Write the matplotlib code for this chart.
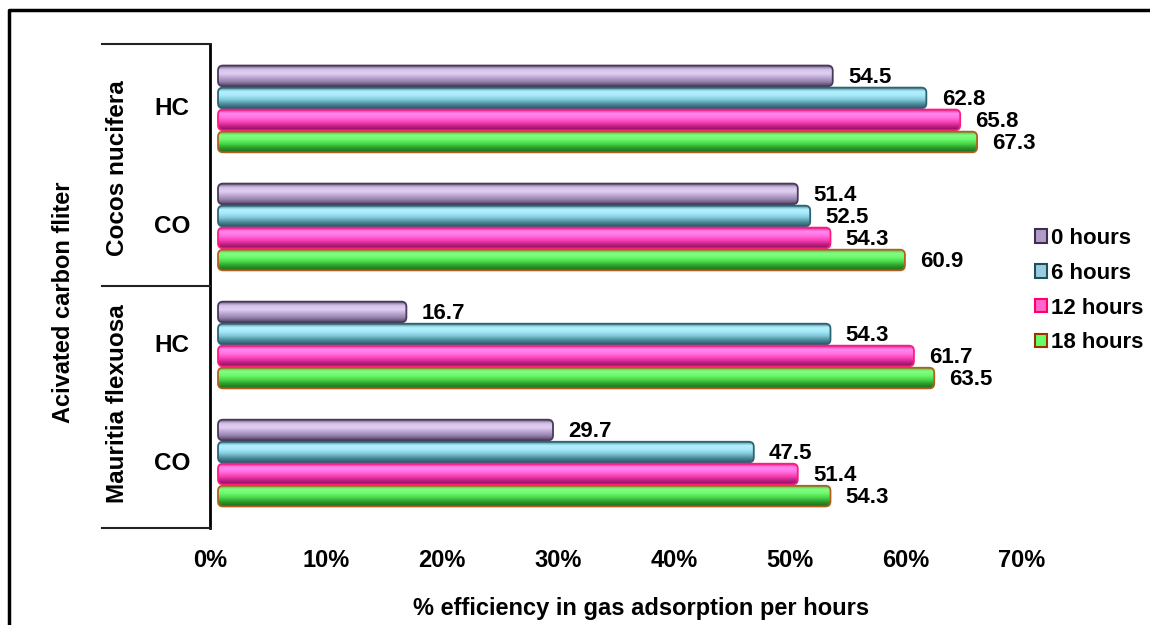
import numpy as np
import matplotlib
matplotlib.use('Agg')
import matplotlib.pyplot as plt
from matplotlib.patches import FancyBboxPatch, Patch
from matplotlib.colors import LinearSegmentedColormap
from matplotlib.lines import Line2D
import matplotlib.transforms as mtransforms

# dados
categorias = ['HC', 'CO', 'HC', 'CO']
grupos = ['Cocos nucifera', 'Mauritia flexuosa']
series = ['0 hours', '6 hours', '12 hours', '18 hours']
v0 = [54.5, 51.4, 16.7, 29.7]
v6 = [62.8, 52.5, 54.3, 47.5]
v12 = [65.8, 54.3, 61.7, 51.4]
v18 = [67.3, 60.9, 63.5, 54.3]
xticks = [0, 10, 20, 30, 40, 50, 60, 70]

valores = [v0, v6, v12, v18]

# estilo: gradiente de cada cilindro (de cima para baixo), borda e cor da legenda
grads = [
    ['#5e4e70', '#d4c2ea', '#e0d0f2', '#bba6d2', '#9581ac', '#554566'],
    ['#3a7282', '#b4f2ff', '#a6eafa', '#82cada', '#4f909f', '#2a5e6c'],
    ['#d81a88', '#ff8af0', '#ff72e2', '#ff44bc', '#c82488', '#8e1060'],
    ['#3cb83c', '#84ff84', '#6cf86c', '#4ad84a', '#2c9c2c', '#1f6e1f'],
]
bordas = ['#4a3a5a', '#2c6474', '#ff1a80', '#b0601c']
cores_leg = ['#b19cc9', '#99ccdd', '#ff66cc', '#66ff66']
bordas_leg = ['#3f2f4f', '#1f4f5f', '#ff0066', '#993300']

plt.rcParams['font.family'] = ['Liberation Sans', 'DejaVu Sans']
plt.rcParams['font.weight'] = 'bold'
fs = 16      # valores e legenda
fs_eixo = 17  # ticks e titulos dos eixos
fs_cat = 17.5  # rotulos das categorias

W, H = 1150, 625
fig = plt.figure(figsize=(W / 100, H / 100), dpi=100)
ax = fig.add_axes([210 / W, 1 - 528 / H, (1022 - 210) / W, (528 - 44) / H])

ypos = np.arange(len(categorias))
offs = [-0.28, -0.093, 0.093, 0.28]
hbar = 0.175
rx = 0.44
asp = 0.096

for k, vals in enumerate(valores):
    cmap = LinearSegmentedColormap.from_list('g%d' % k, grads[k])
    grad = np.linspace(0, 1, 64).reshape(-1, 1)
    for i, v in enumerate(vals):
        y0 = ypos[i] + offs[k] - hbar / 2
        p = FancyBboxPatch((0, y0), v, hbar,
                           boxstyle='round,pad=0,rounding_size=%g' % rx,
                           mutation_aspect=asp, facecolor='none',
                           edgecolor=bordas[k], linewidth=1.3, zorder=3)
        ax.add_patch(p)
        im = ax.imshow(grad, extent=(0, v, y0, y0 + hbar), origin='lower',
                       aspect='auto', cmap=cmap, interpolation='bicubic', zorder=2)
        im.set_clip_path(p)
        ax.annotate(f'{v:.1f}', xy=(v, ypos[i] + offs[k]), xytext=(11, -1),
                    textcoords='offset points', ha='left', va='center',
                    fontsize=fs, fontweight='bold', annotation_clip=False)

ax.set_xlim(-0.71, 71.28)
ax.set_ylim(3.55, -0.55)
ax.set_xticks([])
ax.set_yticks([])
for s in ['top', 'right', 'bottom']:
    ax.spines[s].set_visible(False)
ax.spines['left'].set_linewidth(2)

# eixo com os rotulos de porcentagem (plano da frente)
ax2 = ax.twiny()
ax2.set_xlim(0, 70)
ax2.set_xticks(xticks)
ax2.set_xticklabels([f'{t}%' for t in xticks], fontsize=fs_eixo, fontweight='bold')
ax2.xaxis.set_ticks_position('bottom')
ax2.tick_params(axis='x', length=0, pad=15)
for s in ax2.spines.values():
    s.set_visible(False)

fig.text(641 / W, 1 - 608 / H, '% efficiency in gas adsorption per hours',
         ha='center', va='center', fontsize=fs_eixo, fontweight='bold')

# rotulos das categorias (tabela a esquerda)
tr = mtransforms.blended_transform_factory(fig.transFigure, ax.transData)
for i, c in enumerate(categorias):
    fig.text(172 / W, 0, c, transform=tr, ha='center', va='center',
             fontsize=fs_cat, fontweight='bold').set_y(ypos[i])
for g, nome in enumerate(grupos):
    t = fig.text(118 / W, 0, nome, transform=tr, ha='center', va='center',
                 rotation=90, fontsize=fs_cat, fontweight='bold')
    t.set_y(2 * g + 0.5)
for yl in [-0.55, 1.5, 3.55]:
    fig.add_artist(Line2D([102 / W, 210 / W], [yl, yl], transform=tr,
                          color='#222222', linewidth=1.5))
fig.text(64 / W, 1 - 302 / H, 'Acivated carbon fliter', ha='center', va='center',
         rotation=90, fontsize=fs_eixo, fontweight='bold')

# moldura
fig.add_artist(Line2D([9 / W, 9 / W, 1], [0, 1 - 10 / H, 1 - 10 / H],
                      transform=fig.transFigure, color='black', linewidth=2.5))

# legenda
hand = [Patch(facecolor=cores_leg[k], edgecolor=bordas_leg[k], linewidth=1.5)
        for k in range(len(series))]
fig.legend(hand, series, loc='upper left',
           bbox_to_anchor=(1035 / W, 1 - 228 / H), frameon=False,
           handlelength=0.55, handleheight=0.55,
           handletextpad=0.15, labelspacing=0.62, borderpad=0, borderaxespad=0,
           prop={'weight': 'bold', 'size': fs})

fig.savefig('out.png', dpi=100)
